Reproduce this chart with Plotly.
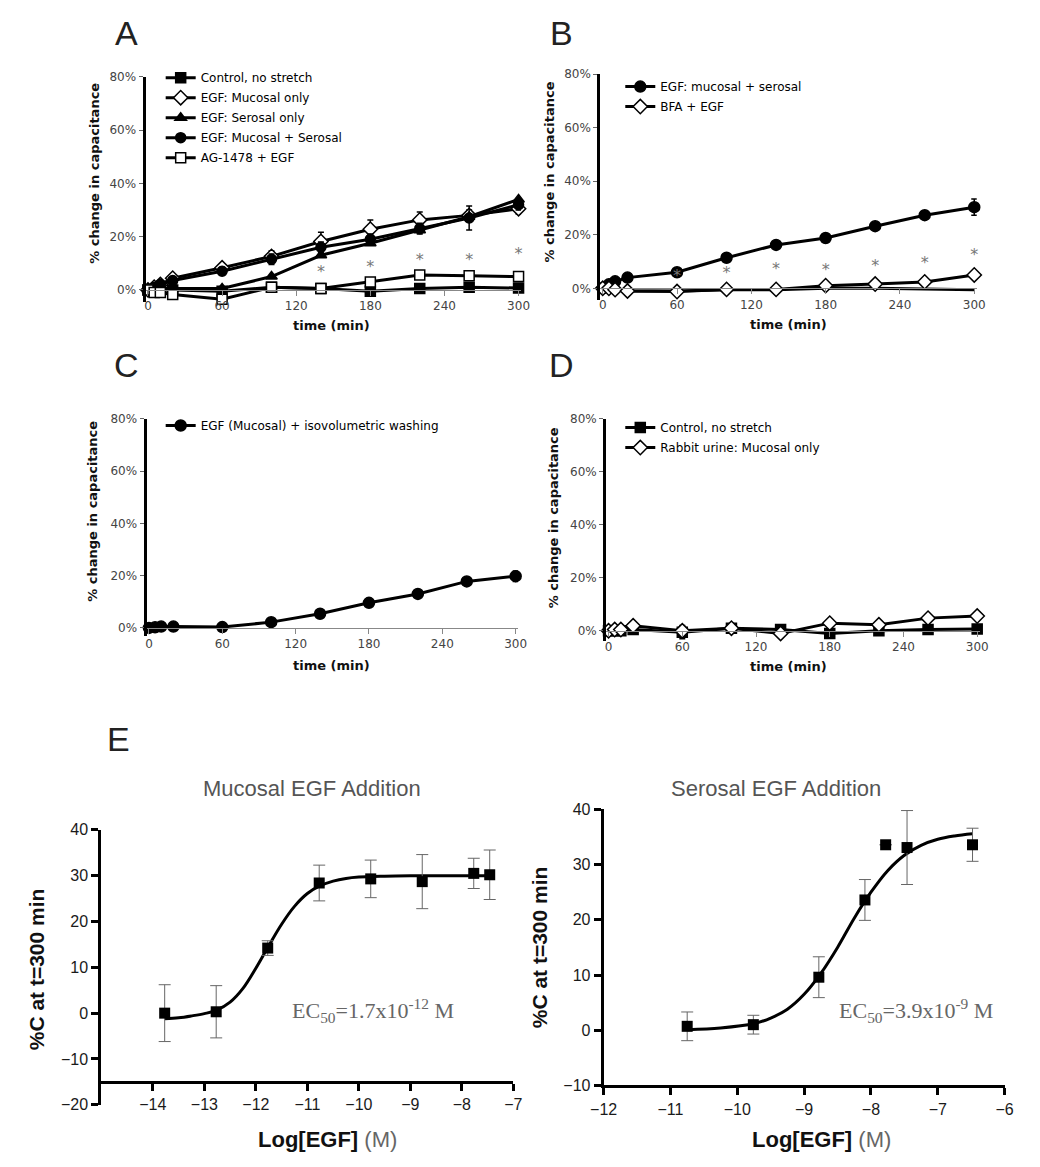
import plotly.graph_objects as go

W, H = 1040, 1167

# ---------------- data ----------------
time_min = [0, 5, 10, 20, 60, 100, 140, 180, 220, 260, 300]
pct_ticks = [0, 20, 40, 60, 80]
pct_labels = ["0%", "20%", "40%", "60%", "80%"]
time_ticks = [0, 60, 120, 180, 240, 300]

# Panel A
a_control = [0, 0, 0, 0, -0.5, 1, 0.5, -0.5, 0.5, 1, 0.7]
a_mucosal = [0, 1, 2, 4.4, 8.3, 12.6, 18.2, 22.8, 26.3, 28, 30.5]
a_serosal = [0, 0, 0.5, 0.5, 0.5, 5, 13, 17.5, 22.4, 27.5, 34]
a_both = [0, 1, 2, 3.5, 7, 11.5, 16, 19, 23, 27, 32]
a_ag1478 = [0, -1, -1, -1.7, -3.5, 1, 0.5, 3, 5.6, 5.3, 5]
a_err_mucosal = [0, 0.5, 0.5, 1, 1.5, 2, 3.5, 3.5, 3, 2, 2]
a_err_both = [0, 0.5, 0.5, 1, 1.5, 2, 2, 2, 2, 4.5, 2]
a_star_x = [140, 180, 220, 260, 300]
a_star_y = [6.5, 8.3, 10.8, 10.8, 13]

# Panel B
b_both = [0, 1.5, 2.6, 4, 6, 11.4, 16.2, 18.8, 23.2, 27.3, 30.3]
b_bfa = [0, 0, -0.5, -1, -1.2, -0.4, -0.4, 1, 1.6, 2.4, 5]
b_base = [0, 0, 0, -1, -1, -0.5, -0.5, 0, 0, -0.3, -0.5]
b_err_both = [0, 0.5, 0.5, 0.5, 1, 1, 1, 1, 1, 1.5, 3]
b_star_x = [60, 100, 140, 180, 220, 260, 300]
b_star_y = [4.2, 5.4, 6.8, 6.6, 7.8, 9, 12]

# Panel C
c_wash = [0, 0.2, 0.5, 0.5, 0.3, 2.2, 5.4, 9.6, 13, 17.8, 19.8]
c_err = [0, 0, 0, 0, 0, 0.5, 0.5, 0.5, 0.5, 1, 2]

# Panel D
d_control = [0, 0, 0, 0.5, -0.5, 1, 0.5, -1, 0, 0.5, 0.7]
d_urine = [0, 0.5, 0.5, 1.9, 0, 1, -1, 2.9, 2.3, 4.8, 5.6]
d_err_control = [0, 0, 0, 0, 2.5, 0.5, 0.5, 0.5, 0.5, 0.5, 0.5]

# Panel E - mucosal
muc_logegf = [-13.77, -12.77, -11.77, -10.77, -9.77, -8.77, -7.77, -7.46]
muc_pctc = [0, 0.3, 14.2, 28.4, 29.3, 28.7, 30.5, 30.2]
muc_err = [6.2, 5.7, 1.6, 3.9, 4.1, 5.9, 3.3, 5.4]
muc_fit_x = [-13.77, -13.5, -13.25, -13.0, -12.77, -12.5, -12.25, -12.0, -11.77, -11.5,
             -11.25, -11.0, -10.77, -10.5, -10.25, -10.0, -9.5, -9.0, -8.5, -8.0, -7.46]
muc_fit_y = [-1.2, -1.0, -0.6, -0.1, 0.6, 2.4, 5.4, 9.8, 14.3, 19.4,
             23.3, 26.1, 27.7, 28.8, 29.4, 29.7, 29.9, 30.0, 30.0, 30.0, 30.0]
muc_xticks = [-14, -13, -12, -11, -10, -9, -8, -7]
muc_yticks = [-20, -10, 0, 10, 20, 30, 40]

# Panel E - serosal
ser_logegf = [-10.75, -9.76, -8.78, -8.09, -7.78, -7.46, -6.48]
ser_pctc = [0.7, 1.0, 9.6, 23.6, 33.6, 33.1, 33.6]
ser_err = [2.6, 1.7, 3.7, 3.7, 0, 6.7, 3.0]
ser_fit_x = [-10.75, -10.25, -9.75, -9.5, -9.25, -9.0, -8.75, -8.5, -8.25, -8.0,
             -7.75, -7.5, -7.25, -7.0, -6.75, -6.48]
ser_fit_y = [0.1, 0.4, 1.2, 2.2, 3.8, 6.5, 10.3, 15.0, 20.3, 25.0,
             28.9, 31.7, 33.5, 34.6, 35.2, 35.6]
ser_xticks = [-12, -11, -10, -9, -8, -7, -6]
ser_yticks = [-10, 0, 10, 20, 30, 40]

# ---------------- helpers (page pixel -> paper fraction) ----------------
def px(p):
    return p / W

def py(p):
    return 1 - p / H

def xdom(p0, p1):
    return [px(p0), px(p1)]

def ydom(top, bottom):
    return [py(bottom), py(top)]

fig = go.Figure()

def ax_id(n):
    return "" if n == 1 else str(n)

def add_series(n, x, y, name, symbol, fill, legend=None, err=None, size=10, show=True, markers=True):
    kw = {}
    if err is not None:
        kw["error_y"] = dict(type="data", array=err, visible=True, color="black", thickness=1.5, width=3)
    fig.add_trace(go.Scatter(
        x=x, y=y, name=name, mode="lines+markers" if markers else "lines",
        xaxis="x" + ax_id(n), yaxis="y" + ax_id(n),
        line=dict(color="black", width=3),
        marker=dict(symbol=symbol, size=size, color=fill, line=dict(color="black", width=1.5)),
        showlegend=show, legend=legend, legendgroup=name, cliponaxis=False, **kw))

def add_stars(n, x, y):
    fig.add_trace(go.Scatter(
        x=x, y=y, mode="text", text=["*"] * len(x), showlegend=False,
        xaxis="x" + ax_id(n), yaxis="y" + ax_id(n),
        textfont=dict(family="DejaVu Sans", size=16, color="#777"), cliponaxis=False))

# A
add_series(1, time_min, a_control, "Control, no stretch", "square", "black", "legend")
add_series(1, time_min, a_mucosal, "EGF: Mucosal only", "diamond", "white", "legend", a_err_mucosal, 11)
add_series(1, time_min, a_serosal, "EGF: Serosal only", "triangle-up", "black", "legend")
add_series(1, time_min, a_both, "EGF: Mucosal + Serosal", "circle", "black", "legend", a_err_both)
add_series(1, time_min, a_ag1478, "AG-1478 + EGF", "square", "white", "legend")
add_stars(1, a_star_x, a_star_y)

# B
add_series(2, time_min, b_base, "baseline", "circle", "black", "legend2", show=False, markers=False)
add_series(2, time_min, b_both, "EGF: mucosal + serosal", "circle", "black", "legend2", b_err_both, 11)
add_series(2, time_min, b_bfa, "BFA + EGF", "diamond", "white", "legend2", None, 11)
add_stars(2, b_star_x, b_star_y)

# C
add_series(3, time_min, c_wash, "EGF (Mucosal) + isovolumetric washing", "circle", "black", "legend3", c_err, 11)

# D
add_series(4, time_min, d_control, "Control, no stretch", "square", "black", "legend4", d_err_control)
add_series(4, time_min, d_urine, "Rabbit urine: Mucosal only", "diamond", "white", "legend4", None, 11)

# E
for n, fx, fy, mx, my, me in [(5, muc_fit_x, muc_fit_y, muc_logegf, muc_pctc, muc_err),
                              (6, ser_fit_x, ser_fit_y, ser_logegf, ser_pctc, ser_err)]:
    fig.add_trace(go.Scatter(x=fx, y=fy, mode="lines", line=dict(color="black", width=3, shape="spline"),
                             xaxis="x%d" % n, yaxis="y%d" % n, showlegend=False))
    fig.add_trace(go.Scatter(x=mx, y=my, mode="markers",
                             marker=dict(symbol="square", size=11, color="black"),
                             error_y=dict(type="data", array=me, visible=True, color="#666", thickness=1, width=6),
                             xaxis="x%d" % n, yaxis="y%d" % n, showlegend=False, cliponaxis=False))

# ---------------- axes ----------------
top_font = dict(family="DejaVu Sans", size=12, color="#444")

def top_axes(n, xpix, ypix, yrange, zero_px):
    s = ax_id(n)
    fig.layout["xaxis" + s] = dict(
        domain=xdom(*xpix), range=[-2, 302], tickvals=time_ticks, anchor="free", position=py(zero_px),
        showline=True, linecolor="#888", linewidth=1, ticks="outside", ticklen=5, tickcolor="#888",
        tickfont=top_font, showgrid=False, zeroline=False)
    fig.layout["yaxis" + s] = dict(
        domain=ydom(*ypix), range=yrange, tickvals=pct_ticks, ticktext=pct_labels, anchor="x" + s,
        showline=True, linecolor="black", linewidth=3, ticks="outside", ticklen=4, tickcolor="#666",
        tickfont=top_font, showgrid=False, zeroline=False)

top_axes(1, (134.5, 518.5), (70, 298.2), [-4.5, 80], 286)
top_axes(2, (599.5, 984.5), (67, 296.7), [-4.5, 80], 284.5)
top_axes(3, (135.5, 515.5), (417, 637), [-3, 80], 629)
top_axes(4, (605.5, 987.5), (417, 642.8), [-4, 80], 632)

e_font = dict(family="Liberation Sans", size=16, color="#1a1a1a")
e_ax = dict(showline=True, linecolor="black", linewidth=3, ticks="outside", ticklen=7, tickwidth=2.5,
            tickcolor="black", tickfont=e_font, showgrid=False, zeroline=False)

fig.layout.xaxis5 = dict(domain=xdom(89.3, 510.7), range=[-15, -7], tickvals=muc_xticks,
                         anchor="free", position=py(1089.75), **e_ax)
fig.layout.yaxis5 = dict(domain=ydom(834, 1113), range=[-20, 40], tickvals=muc_yticks, anchor="x5", **e_ax)
fig.layout.xaxis6 = dict(domain=xdom(603, 1013), range=[-12, -6], tickvals=ser_xticks, anchor="y6", **e_ax)
fig.layout.yaxis6 = dict(domain=ydom(813.3, 1093.3), range=[-10, 40], tickvals=ser_yticks, anchor="x6", **e_ax)

# ---------------- legends ----------------
leg_font = dict(family="DejaVu Sans", size=12, color="black")
def legend(lx, ly):
    return dict(x=px(lx), y=py(ly), xanchor="left", yanchor="top", font=leg_font,
                bgcolor="rgba(0,0,0,0)", tracegroupgap=1, itemwidth=30)

fig.update_layout(
    legend=legend(150, 56), legend2=legend(620, 65), legend3=legend(150, 409), legend4=legend(620, 411))

# ---------------- annotations ----------------
ann = []
def text(tx, ty, t, font, angle=0):
    ann.append(dict(x=px(tx), y=py(ty), xref="paper", yref="paper", text=t, showarrow=False,
                    xanchor="center", yanchor="middle", font=font, textangle=angle))

letter_font = dict(family="Liberation Sans", size=34, color="#222")
for lx, ly, t in [(115, 25, "A"), (560, 25, "B"), (115, 362, "C"), (560, 362, "D"), (107, 742, "E")]:
    text(lx, ly, t, letter_font)

ytitle_font = dict(family="DejaVu Sans", size=13, color="#111")
for tx, ty in [(82, 168), (548, 166), (80, 511), (552, 517)]:
    text(tx, ty, "<b>% change in capacitance</b>", ytitle_font, -90)
for tx, ty in [(325, 322), (792, 321), (325, 667), (792, 668)]:
    text(tx, ty, "<b>time (min)</b>", ytitle_font)

text(305, 792, "Mucosal EGF Addition", dict(family="Liberation Sans", size=22, color="#555"))
text(779, 792, "Serosal EGF Addition", dict(family="Liberation Sans", size=22, color="#555"))
etitle = dict(family="Liberation Sans", size=21, color="#111")
text(23, 975, "<b>%C at t=300 min</b>", etitle, -90)
text(537, 953, "<b>%C at t=300 min</b>", etitle, -90)
logfont = dict(family="Liberation Sans", size=22, color="#111")
text(321, 1148, "<b>Log[EGF]</b> <span style='color:#666'>(M)</span>", logfont)
text(826, 1148, "<b>Log[EGF]</b> <span style='color:#666'>(M)</span>", logfont)
ecfont = dict(family="Liberation Serif", size=22, color="#666")
text(367, 1017, "EC<sub>50</sub>=1.7x10<sup>-12</sup> M", ecfont)
text(922, 1017, "EC<sub>50</sub>=3.9x10<sup>-9</sup> M", ecfont)

fig.update_layout(annotations=ann, width=W, height=H, margin=dict(l=0, r=0, t=0, b=0),
                  paper_bgcolor="white", plot_bgcolor="white")

fig.write_html("out.html")
